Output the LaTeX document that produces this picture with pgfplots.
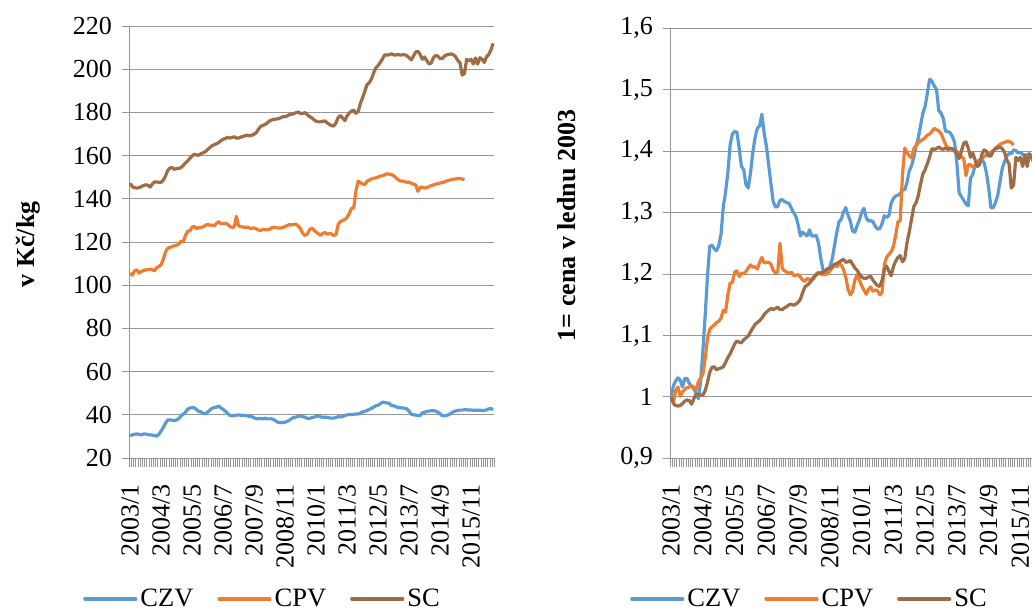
\documentclass[border=0pt]{standalone}
\usepackage{fontspec}
\setmainfont{Liberation Serif}
\usepackage{pgfplots}
\usepackage{pgfplotstable}
\pgfplotsset{compat=1.18}
\definecolor{czv}{RGB}{91,155,213}
\definecolor{cpv}{RGB}{237,125,49}
\definecolor{sc}{RGB}{158,108,70}
\definecolor{gridc}{RGB}{150,150,150}

% ratio to January 2003 (index 0 = 2003/1)
\pgfplotstableread{
i czv cpv sc
0 1.000 1.000 1.000
1 1.018 0.992 0.989
2 1.026 1.010 0.986
3 1.031 1.016 0.985
4 1.027 1.001 0.986
5 1.016 1.008 0.989
6 1.030 1.012 0.993
7 1.030 1.015 0.995
8 1.022 1.016 0.994
9 1.017 1.018 0.988
10 1.013 1.016 0.997
11 1.006 1.011 1.004
12 0.997 1.025 1.004
13 1.025 1.030 1.003
14 1.075 1.037 1.003
15 1.132 1.062 1.010
16 1.195 1.094 1.023
17 1.245 1.110 1.040
18 1.247 1.114 1.048
19 1.241 1.117 1.049
20 1.238 1.121 1.044
21 1.246 1.123 1.046
22 1.265 1.128 1.047
23 1.310 1.141 1.049
24 1.333 1.138 1.056
25 1.365 1.166 1.064
26 1.410 1.185 1.070
27 1.428 1.186 1.078
28 1.432 1.203 1.086
29 1.431 1.205 1.091
30 1.405 1.196 1.089
31 1.375 1.201 1.088
32 1.370 1.201 1.093
33 1.345 1.204 1.096
34 1.340 1.210 1.099
35 1.365 1.215 1.106
36 1.398 1.211 1.112
37 1.422 1.212 1.118
38 1.437 1.208 1.121
39 1.441 1.219 1.124
40 1.460 1.227 1.128
41 1.430 1.218 1.134
42 1.408 1.219 1.138
43 1.378 1.219 1.141
44 1.347 1.216 1.144
45 1.318 1.206 1.142
46 1.309 1.202 1.144
47 1.310 1.203 1.146
48 1.320 1.250 1.142
49 1.321 1.209 1.142
50 1.318 1.205 1.145
51 1.316 1.203 1.147
52 1.315 1.201 1.150
53 1.307 1.203 1.151
54 1.300 1.198 1.149
55 1.294 1.198 1.151
56 1.280 1.199 1.154
57 1.262 1.195 1.159
58 1.268 1.190 1.170
59 1.265 1.188 1.179
60 1.262 1.193 1.182
61 1.272 1.191 1.185
62 1.262 1.191 1.190
63 1.262 1.193 1.196
64 1.263 1.200 1.199
65 1.250 1.203 1.201
66 1.225 1.200 1.202
67 1.206 1.199 1.203
68 1.204 1.199 1.206
69 1.205 1.201 1.209
70 1.212 1.205 1.209
71 1.224 1.210 1.212
72 1.246 1.214 1.216
73 1.267 1.212 1.217
74 1.285 1.215 1.219
75 1.289 1.215 1.222
76 1.301 1.207 1.224
77 1.308 1.195 1.219
78 1.296 1.175 1.220
79 1.286 1.166 1.222
80 1.270 1.172 1.216
81 1.268 1.190 1.210
82 1.279 1.199 1.206
83 1.288 1.190 1.200
84 1.300 1.181 1.195
85 1.307 1.174 1.193
86 1.292 1.167 1.193
87 1.286 1.175 1.195
88 1.287 1.179 1.196
89 1.285 1.172 1.190
90 1.278 1.174 1.185
91 1.273 1.173 1.181
92 1.274 1.166 1.180
93 1.282 1.170 1.190
94 1.295 1.215 1.207
95 1.292 1.227 1.213
96 1.295 1.232 1.205
97 1.315 1.236 1.197
98 1.323 1.245 1.212
99 1.327 1.263 1.221
100 1.328 1.285 1.227
101 1.331 1.287 1.230
102 1.337 1.361 1.220
103 1.337 1.405 1.225
104 1.349 1.398 1.251
105 1.368 1.392 1.269
106 1.376 1.389 1.289
107 1.390 1.404 1.310
108 1.408 1.409 1.316
109 1.422 1.414 1.328
110 1.442 1.417 1.347
111 1.462 1.419 1.363
112 1.473 1.422 1.370
113 1.495 1.426 1.380
114 1.517 1.428 1.391
115 1.514 1.432 1.404
116 1.506 1.437 1.403
117 1.501 1.435 1.404
118 1.466 1.433 1.407
119 1.462 1.429 1.404
120 1.453 1.420 1.403
121 1.432 1.411 1.405
122 1.432 1.405 1.403
123 1.430 1.405 1.404
124 1.424 1.402 1.404
125 1.414 1.400 1.401
126 1.380 1.400 1.395
127 1.332 1.395 1.388
128 1.326 1.391 1.400
129 1.320 1.388 1.413
130 1.314 1.360 1.415
131 1.311 1.378 1.405
132 1.356 1.378 1.390
133 1.362 1.374 1.397
134 1.377 1.376 1.386
135 1.382 1.380 1.375
136 1.386 1.385 1.378
137 1.386 1.388 1.395
138 1.381 1.391 1.402
139 1.365 1.394 1.400
140 1.341 1.396 1.392
141 1.308 1.398 1.392
142 1.308 1.401 1.400
143 1.316 1.405 1.404
144 1.328 1.408 1.405
145 1.350 1.411 1.407
146 1.372 1.413 1.404
147 1.383 1.414 1.398
148 1.392 1.416 1.386
149 1.396 1.416 1.379
150 1.396 1.414 1.340
151 1.402 1.410 1.345
152 1.401 nan 1.390
153 1.397 nan 1.385
154 1.398 nan 1.390
155 1.395 nan 1.375
156 1.393 nan 1.394
157 1.394 nan 1.375
158 1.396 nan 1.395
159 1.390 nan 1.390
160 1.390 nan 1.380
161 1.400 nan 1.398
162 1.415 nan 1.405
163 1.420 nan 1.420
164 1.405 nan 1.440
}\ratios

\pgfplotsset{
  mystyle/.style={
    scale only axis,
    axis x line*=bottom, axis y line*=left,
    axis line style={gridc, line width=0.9pt},
    xmin=-0.5, xmax=164.5,
    xtick={0,14,...,154},
    xticklabels={2003/1,2004/3,2005/5,2006/7,2007/9,2008/11,2010/1,2011/3,2012/5,2013/7,2014/9,2015/11},
    minor xtick={-0.5,0.5,...,164.5},
    major x tick style={draw=none},
    minor x tick style={draw=gridc, line width=0.7pt},
    y tick style={draw=gridc, line width=0.9pt},
    minor tick length=9pt,
    major tick length=7pt,
    tick align=outside,
    ymajorgrids,
    grid style={draw=gridc, line width=0.9pt},
    xticklabel style={rotate=90, anchor=east, inner xsep=19pt, font=\fontsize{26}{26}\selectfont},
    yticklabel style={inner xsep=10pt, font=\fontsize{26}{26}\selectfont},
    every axis plot/.append style={line width=3.2pt, line join=round},
    legend columns=3,
    legend image code/.code={\draw[#1, line width=3.2pt, line cap=round] (0pt,0pt) -- (51pt,0pt);},
    legend style={draw=none, fill=none, inner sep=0pt, anchor=west,
      font=\fontsize{26.5}{26.5}\selectfont,
      nodes={inner xsep=3pt, inner ysep=0pt},
      /tikz/every even column/.append style={column sep=21pt}},
  }
}

\begin{document}
\begin{tikzpicture}
\useasboundingbox (0pt,0pt) rectangle (1032pt,612pt);
\clip (0pt,0pt) rectangle (1032pt,612pt);
\begin{axis}[mystyle, at={(129pt,154pt)}, anchor=south west,
  width=365.3pt, height=432pt,
  ymin=20, ymax=220, ytick={20,40,...,220},
  yticklabels={20,40,60,80,100,120,140,160,180,200,220},
  legend style={at={(axis description cs:-0.1259,-0.3263)}}]
\addplot[czv] table[x=i, y expr=\thisrow{czv}*30.2] {\ratios};
\addplot[cpv] table[x=i, y expr=\thisrow{cpv}*105.5] {\ratios};
\addplot[sc] table[x=i, y expr=\thisrow{sc}*147.2] {\ratios};
\legend{CZV,CPV,SC}
\end{axis}
\begin{axis}[mystyle, at={(670pt,153.7pt)}, anchor=south west,
  width=374.2pt, height=430pt,
  ymin=0.9, ymax=1.6, ytick={0.9,1.0,1.1,1.2,1.3,1.4,1.5,1.6},
  yticklabels={{0,9},1,{1,1},{1,2},{1,3},{1,4},{1,5},{1,6}},
  legend style={at={(axis description cs:-0.1069,-0.327)}}]
\addplot[czv] table[x=i, y=czv] {\ratios};
\addplot[cpv] table[x=i, y=cpv] {\ratios};
\addplot[sc] table[x=i, y=sc] {\ratios};
\legend{CZV,CPV,SC}
\end{axis}
\node[rotate=90, anchor=base, font=\bfseries\fontsize{26}{26}\selectfont] at (34pt,367.5pt) {v Kč/kg};
\node[rotate=90, anchor=base, font=\bfseries\fontsize{26}{26}\selectfont] at (575pt,386.5pt) {1= cena v lednu 2003};
\end{tikzpicture}
\end{document}
